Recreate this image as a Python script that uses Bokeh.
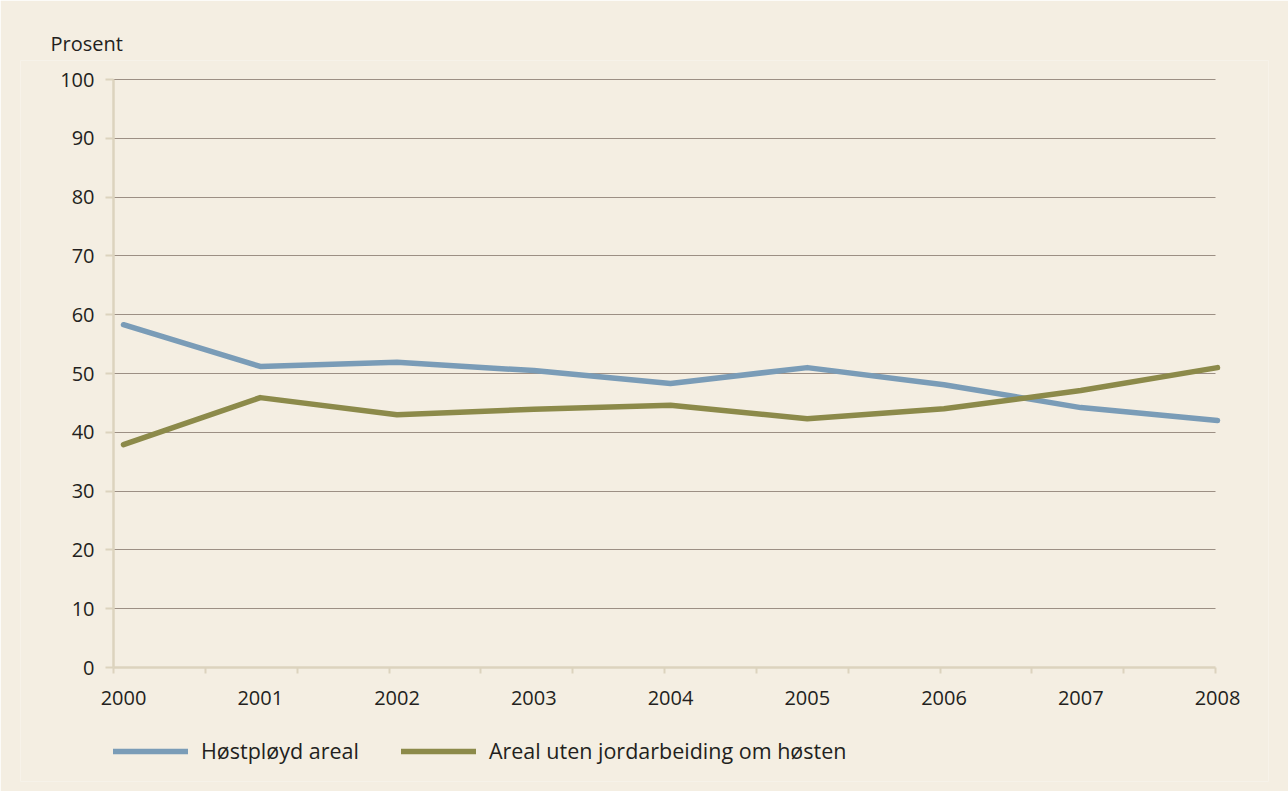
from bokeh.plotting import figure
from bokeh.models import Range1d, FixedTicker, Legend, LegendItem, Title
from bokeh.embed import file_html
from bokeh.resources import INLINE

years = [2000, 2001, 2002, 2003, 2004, 2005, 2006, 2007, 2008]
hostployd = [58.3, 51.2, 51.9, 50.5, 48.3, 51.0, 48.1, 44.2, 42.0]
uten_jordarbeiding = [37.9, 45.9, 43.0, 43.9, 44.6, 42.3, 44.0, 47.1, 51.0]
series_names = ["Høstpløyd areal", "Areal uten jordarbeiding om høsten"]
y_ticks = [0, 10, 20, 30, 40, 50, 60, 70, 80, 90, 100]
y_unit = "Prosent"

BG = "#F4EEE2"
TXT = "#231F20"
AXIS = "#DCD3BE"
GRID = "#9C8F84"
BLUE = "#7A9CB7"
OLIVE = "#8C8A4A"
FONT = "Open Sans"

# page geometry (pixels)
W, H = 1288, 791
left, right, top, bottom = 20, 20, 60, 10
axis_left_px, axis_right_px = 113, 1215
first_year_px, last_year_px = 123, 1217
zero_px, hundred_px = 667, 79

frame_l, frame_r, frame_t, frame_b = left, W - right, top, H - bottom
ppx = (last_year_px - first_year_px) / (years[-1] - years[0])
x_at = lambda px: years[0] + (px - first_year_px) / ppx
x_lo, x_hi = x_at(frame_l), x_at(frame_r)
ax_lo, ax_hi = x_at(axis_left_px), x_at(axis_right_px)
ppy = (zero_px - hundred_px) / 100
y_at = lambda px: (zero_px - px) / ppy
y_lo, y_hi = y_at(frame_b), y_at(frame_t)

p = figure(width=W, height=H, output_backend="svg", toolbar_location=None,
           x_range=Range1d(x_lo, x_hi), y_range=Range1d(y_lo, y_hi),
           min_border_left=left, min_border_right=right,
           min_border_top=top, min_border_bottom=bottom,
           background_fill_color=BG, border_fill_color=BG, title=None)
p.outline_line_color = None

r1 = p.line(years, hostployd, line_color=BLUE, line_width=5.5,
            line_cap="round", line_join="round")
r2 = p.line(years, uten_jordarbeiding, line_color=OLIVE, line_width=5.5,
            line_cap="round", line_join="round")

# x axis, pinned at y = 0
divs = [ax_lo + k * (ax_hi - ax_lo) / 12 for k in range(13)]
p.xaxis.fixed_location = 0
p.xaxis.bounds = (ax_lo, ax_hi)
p.xaxis.ticker = FixedTicker(ticks=years, minor_ticks=divs)
p.xaxis.axis_line_color = AXIS
p.xaxis.axis_line_width = 2.5
p.xaxis.major_tick_in = 0
p.xaxis.major_tick_out = 0
p.xaxis.minor_tick_in = 0
p.xaxis.minor_tick_out = 6
p.xaxis.minor_tick_line_color = AXIS
p.xaxis.minor_tick_line_width = 2
p.xaxis.major_label_standoff = 17
p.xaxis.major_label_text_font = FONT
p.xaxis.major_label_text_font_size = "20px"
p.xaxis.major_label_text_color = TXT

# y axis, pinned at the left end of the x axis
p.yaxis.fixed_location = ax_lo
p.yaxis.bounds = (0, 100)
p.yaxis.ticker = FixedTicker(ticks=y_ticks, minor_ticks=[])
p.yaxis.axis_line_color = AXIS
p.yaxis.axis_line_width = 2.5
p.yaxis.major_tick_in = 0
p.yaxis.major_tick_out = 8
p.yaxis.major_tick_line_color = AXIS
p.yaxis.major_tick_line_width = 2
p.yaxis.minor_tick_line_color = None
p.yaxis.major_label_standoff = 11
p.yaxis.major_label_text_font = FONT
p.yaxis.major_label_text_font_size = "20px"
p.yaxis.major_label_text_color = TXT

p.xgrid.grid_line_color = None
p.ygrid.ticker = FixedTicker(ticks=y_ticks[1:])
p.ygrid.cross_bounds = (ax_lo, ax_hi)
p.ygrid.grid_line_color = GRID
p.ygrid.grid_line_width = 1.2

# "Prosent" above the y axis
p.add_layout(Title(text=y_unit, align="left", offset=50 - frame_l, standoff=8,
                   text_font=FONT, text_font_size="20px",
                   text_font_style="normal", text_color=TXT), "above")

legend = Legend(items=[LegendItem(label=series_names[0], renderers=[r1]),
                       LegendItem(label=series_names[1], renderers=[r2])],
                orientation="horizontal",
                location=(axis_left_px - frame_l, frame_b - 765),
                background_fill_alpha=0, border_line_color=None,
                padding=0, margin=0, spacing=42,
                glyph_width=75, glyph_height=20, label_height=20,
                label_standoff=13,
                label_text_font=FONT, label_text_font_size="21.5px",
                label_text_color=TXT)
p.add_layout(legend, "center")

open("out.html", "w").write(file_html(p, INLINE))
